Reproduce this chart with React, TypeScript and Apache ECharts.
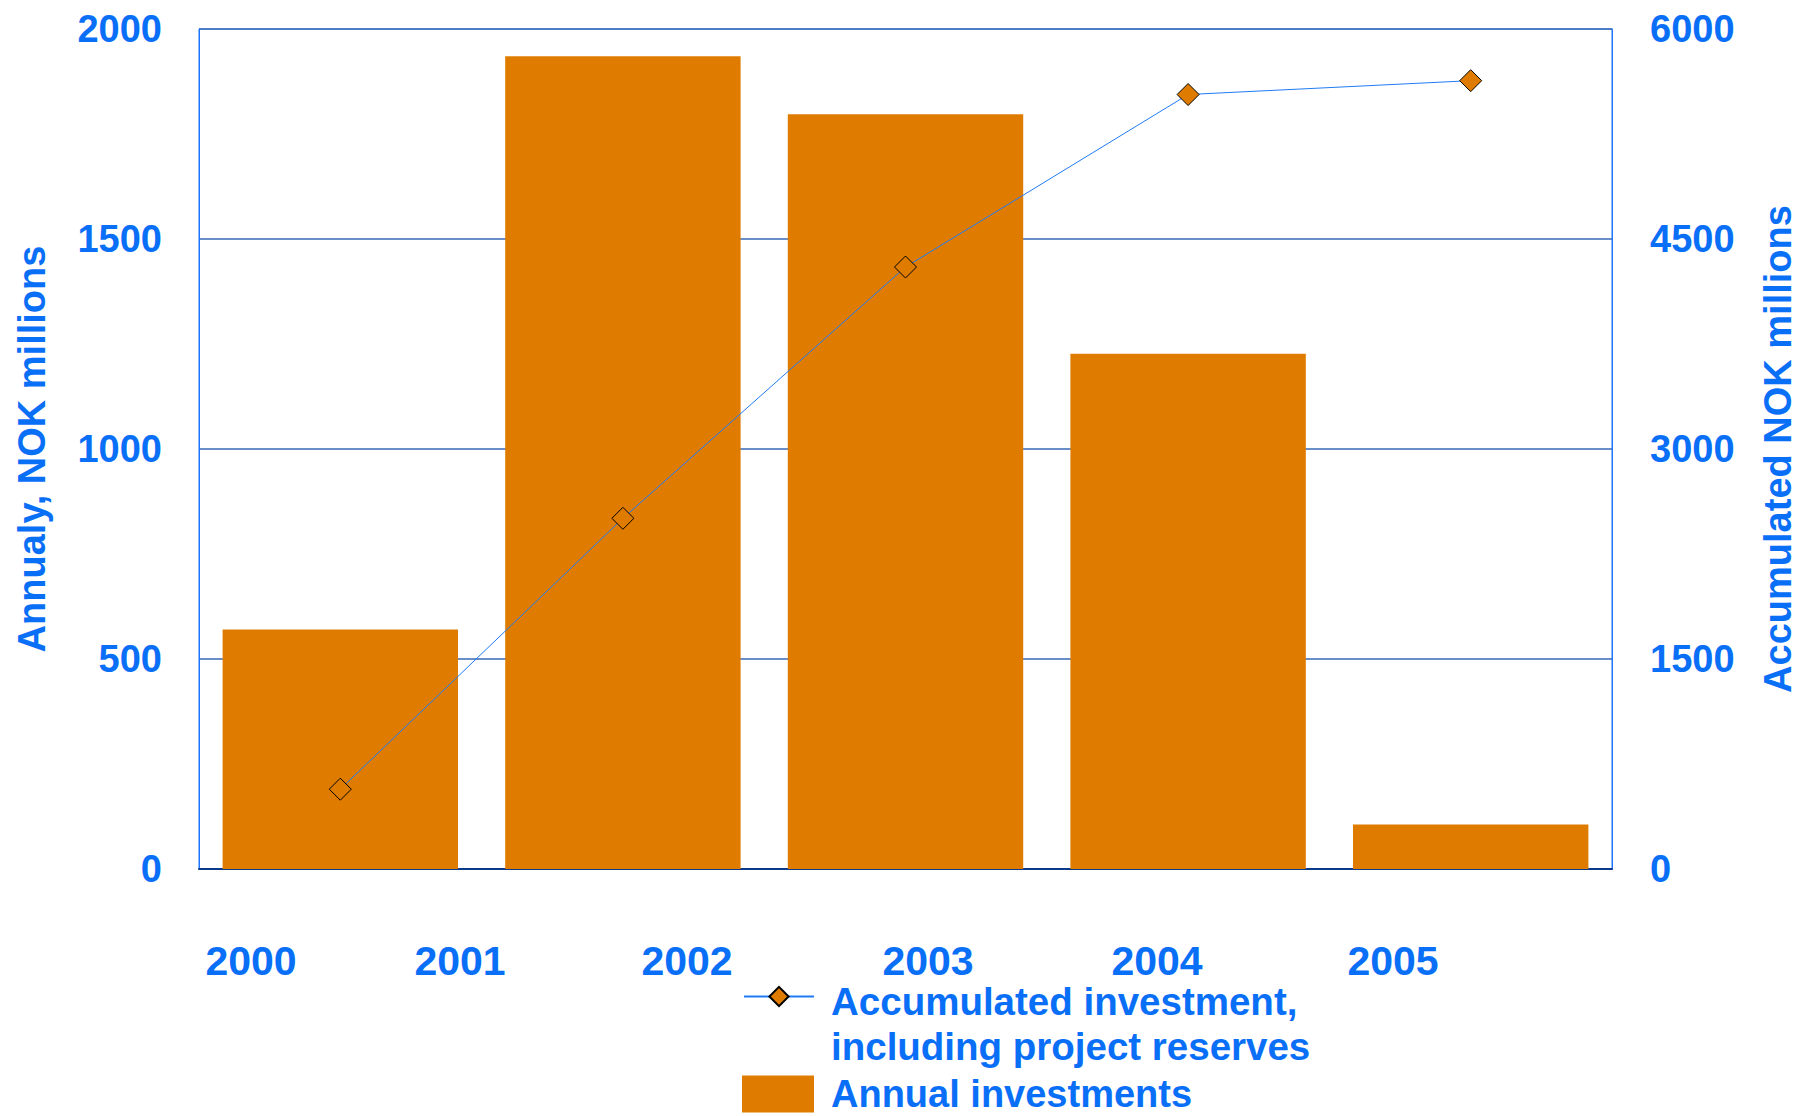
import React, { useEffect, useRef } from "react";
import * as echarts from "echarts";

// ---- Data ----
const categories = ["2000", "2001", "2002", "2003", "2004"];
const annualInvestments = [570, 1935, 1797, 1227, 106];
const accumulatedInvestment = [570, 2505, 4300, 5532, 5631];
const yearTickLabels = ["2000", "2001", "2002", "2003", "2004", "2005"];
const leftTicks = { min: 0, max: 2000, interval: 500 };
const rightTicks = { min: 0, max: 6000, interval: 1500 };
const seriesNames = {
  line: "Accumulated investment, including project reserves",
  bar: "Annual investments",
};
const legendLines = {
  line: ["Accumulated investment,", "including project reserves"],
  bar: ["Annual investments"],
};
const axisNames = {
  left: "Annualy, NOK millions",
  right: "Accumulated NOK millions",
};

// ---- Layout / style constants ----
const W = 1805;
const H = 1116;
const yearLabelX = [251, 460, 687, 928, 1157, 1393];
const yearLabelY = 961;
const BLUE_TEXT = "#0a6ff7";
const ORANGE = "#df7c00";
const LINE_BLUE = "#1f7cf5";
const BORDER_BLUE = "#1a75ff";
const GRID_BLUE = "#3868b4";
const AXIS_NAVY = "#0b3a8c";
const FONT = "'Liberation Sans', Arial, Helvetica, sans-serif";

export default function App() {
  const ref = useRef<HTMLDivElement>(null);

  useEffect(() => {
    if (!ref.current) return;
    const chart = echarts.init(ref.current, undefined, { renderer: "svg" });

    const textBase = {
      fontFamily: FONT,
      fontWeight: "bold" as const,
      color: BLUE_TEXT,
    };
    const legendRich = (spacer: number, lh: number, fs: number) => ({
      s: { lineHeight: spacer, fontSize: 8 },
      a: { ...textBase, fontSize: fs, lineHeight: lh },
    });

    chart.setOption({
      animation: false,
      backgroundColor: "#ffffff",
      grid: {
        left: 199,
        right: W - 1616,
        top: 29,
        bottom: H - 869,
        show: true,
        borderColor: BORDER_BLUE,
        borderWidth: 1,
        containLabel: false,
      },
      legend: [
        {
          data: [seriesNames.line],
          left: 743,
          top: 947.5,
          padding: 0,
          orient: "vertical",
          itemWidth: 70,
          itemHeight: 24,
          formatter: () =>
            "{s| }\n" + legendLines.line.map((t) => `{a|${t}}`).join("\n"),
          textStyle: {
            ...textBase,
            fontSize: 38.5,
            padding: [0, 0, 0, 12],
            rich: legendRich(55, 45, 38.5),
          },
          selectedMode: false,
        },
        {
          data: [{ name: seriesNames.bar, icon: "rect" }],
          left: 742,
          top: 1075,
          padding: 0,
          orient: "vertical",
          itemWidth: 72,
          itemHeight: 37,
          formatter: () => legendLines.bar.join("\n"),
          textStyle: {
            ...textBase,
            fontSize: 38,
            lineHeight: 36,
            padding: [0, 0, 0, 12],
          },
          selectedMode: false,
        },
      ],
      xAxis: {
        type: "category",
        data: categories,
        axisLabel: { show: false },
        axisTick: { show: false },
        axisLine: { show: true, lineStyle: { color: AXIS_NAVY, width: 2 } },
        splitLine: { show: false },
      },
      yAxis: [
        {
          type: "value",
          position: "left",
          min: leftTicks.min,
          max: leftTicks.max,
          interval: leftTicks.interval,
          name: axisNames.left,
          nameLocation: "middle",
          nameRotate: 90,
          nameGap: 148,
          nameTextStyle: { ...textBase, fontSize: 38 },
          axisLabel: { ...textBase, fontSize: 38, margin: 37, formatter: (v: number) => String(v) },
          axisLine: { show: true, lineStyle: { color: BORDER_BLUE, width: 1 } },
          axisTick: { show: false },
          splitLine: { show: true, lineStyle: { color: GRID_BLUE, width: 1.5 } },
        },
        {
          type: "value",
          position: "right",
          min: rightTicks.min,
          max: rightTicks.max,
          interval: rightTicks.interval,
          name: axisNames.right,
          nameLocation: "middle",
          nameRotate: 90,
          nameGap: 147,
          nameTextStyle: { ...textBase, fontSize: 38 },
          axisLabel: { ...textBase, fontSize: 38, margin: 38, formatter: (v: number) => String(v) },
          axisLine: { show: true, lineStyle: { color: BORDER_BLUE, width: 1 } },
          axisTick: { show: false },
          splitLine: { show: false },
        },
      ],
      series: [
        {
          name: seriesNames.bar,
          type: "bar",
          yAxisIndex: 0,
          data: annualInvestments,
          barCategoryGap: "16.7%",
          itemStyle: { color: ORANGE },
          z: 2,
        },
        {
          name: seriesNames.line,
          type: "line",
          yAxisIndex: 1,
          data: accumulatedInvestment,
          symbol: "diamond",
          symbolSize: 22,
          lineStyle: { color: LINE_BLUE, width: 1 },
          itemStyle: { color: ORANGE, borderColor: "#000000", borderWidth: 1 },
          z: 3,
        },
      ],
      graphic: yearTickLabels.map((label, i) => ({
        type: "text",
        x: yearLabelX[i],
        y: yearLabelY,
        style: {
          text: label,
          fill: BLUE_TEXT,
          font: `bold 41px ${FONT}`,
          align: "center",
          verticalAlign: "middle",
        },
      })),
    });

    return () => chart.dispose();
  }, []);

  return (
    <div
      ref={ref}
      style={{ position: "fixed", left: 0, top: 0, width: W, height: H, background: "#fff" }}
    />
  );
}
